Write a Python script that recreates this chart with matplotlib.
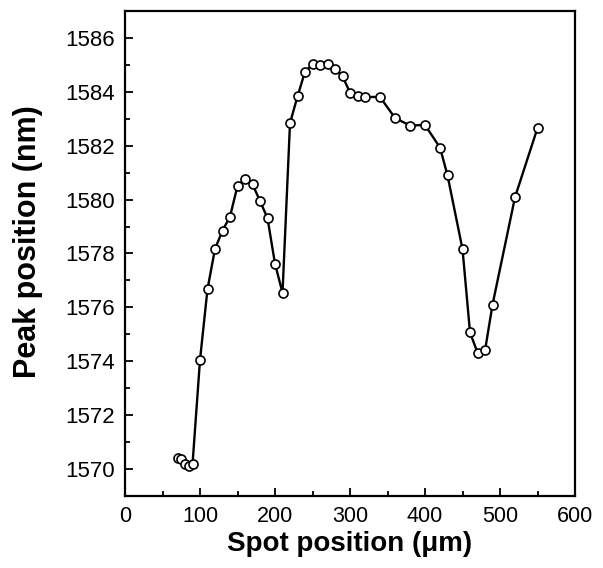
import matplotlib
matplotlib.use("Agg")
import matplotlib.pyplot as plt
from matplotlib.ticker import MultipleLocator

# spot position (um) and peak position (nm)
spot = [70, 75, 80, 85, 90, 100, 110, 120, 130, 140, 150, 160, 170, 180, 190,
        200, 210, 220, 230, 240, 250, 260, 270, 280, 290, 300, 310, 320, 340,
        360, 380, 400, 420, 430, 450, 460, 470, 480, 490, 520, 550]
peak = [1570.42, 1570.37, 1570.20, 1570.12, 1570.17, 1574.05, 1576.68, 1578.17,
        1578.85, 1579.37, 1580.51, 1580.77, 1580.57, 1579.95, 1579.31, 1577.62,
        1576.54, 1582.84, 1583.83, 1584.75, 1585.02, 1584.99, 1585.05, 1584.83,
        1584.58, 1583.97, 1583.85, 1583.81, 1583.81, 1583.03, 1582.75, 1582.77,
        1581.93, 1580.90, 1578.16, 1575.07, 1574.32, 1574.40, 1576.10, 1580.09,
        1582.66]

plt.rcParams['font.family'] = ['Liberation Sans', 'DejaVu Sans']

fig = plt.figure(figsize=(6.03, 5.68), dpi=100)
ax = fig.add_axes([0.2073, 0.1268, 0.7463, 0.8538])

ax.plot(spot, peak, color='black', lw=1.7, marker='o', ms=6.5,
        mfc='white', mec='black', mew=1.2)

ax.set_xlim(0, 600)
ax.set_ylim(1569, 1587)
ax.xaxis.set_major_locator(MultipleLocator(100))
ax.xaxis.set_minor_locator(MultipleLocator(50))
ax.yaxis.set_major_locator(MultipleLocator(2))
ax.yaxis.set_minor_locator(MultipleLocator(1))
ax.tick_params(which='both', direction='in', width=1.3, labelsize=15.5)
ax.tick_params(axis='y', labelsize=16)
ax.tick_params(which='major', length=6, pad=7)
ax.tick_params(which='minor', length=3.5)
for s in ax.spines.values():
    s.set_linewidth(1.6)

ax.set_xlabel('Spot position (\u03bcm)', fontsize=20, fontweight='bold', labelpad=3)
ax.set_ylabel('Peak position (nm)', fontsize=22, fontweight='bold')
ax.yaxis.set_label_coords(-0.182, 0.525)

fig.savefig('out.png', dpi=100)
